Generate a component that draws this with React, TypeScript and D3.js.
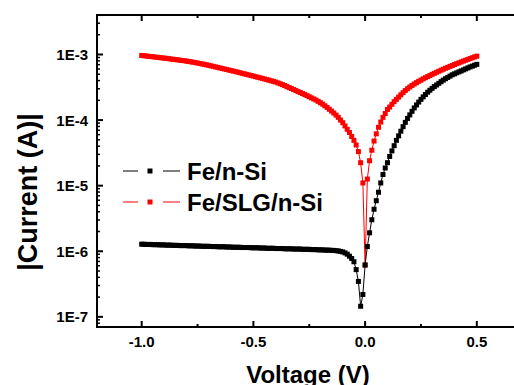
import { useEffect, useRef } from 'react';
import * as d3 from 'd3';

// Voltage sweep, -1.0 V to 0.5 V in 10 mV steps
const voltages = d3.range(-100, 51).map(i => i / 100);

// |I| (A), one value per sweep step
const currentFeNSi = [
    1.28e-6, 1.28e-6, 1.27e-6, 1.27e-6, 1.27e-6, 1.26e-6, 1.26e-6, 1.26e-6, 1.25e-6, 1.25e-6,
    1.25e-6, 1.24e-6, 1.24e-6, 1.24e-6, 1.23e-6, 1.23e-6, 1.23e-6, 1.22e-6, 1.22e-6, 1.22e-6,
    1.22e-6, 1.21e-6, 1.21e-6, 1.21e-6, 1.20e-6, 1.20e-6, 1.20e-6, 1.19e-6, 1.19e-6, 1.19e-6,
    1.19e-6, 1.18e-6, 1.18e-6, 1.18e-6, 1.17e-6, 1.17e-6, 1.17e-6, 1.17e-6, 1.16e-6, 1.16e-6,
    1.16e-6, 1.15e-6, 1.15e-6, 1.15e-6, 1.15e-6, 1.14e-6, 1.14e-6, 1.14e-6, 1.14e-6, 1.13e-6,
    1.13e-6, 1.13e-6, 1.13e-6, 1.12e-6, 1.12e-6, 1.12e-6, 1.11e-6, 1.11e-6, 1.11e-6, 1.11e-6,
    1.10e-6, 1.10e-6, 1.10e-6, 1.10e-6, 1.09e-6, 1.09e-6, 1.09e-6, 1.09e-6, 1.08e-6, 1.08e-6,
    1.08e-6, 1.08e-6, 1.07e-6, 1.07e-6, 1.07e-6, 1.07e-6, 1.06e-6, 1.06e-6, 1.06e-6, 1.05e-6,
    1.05e-6, 1.05e-6, 1.04e-6, 1.04e-6, 1.04e-6, 1.03e-6, 1.03e-6, 1.02e-6, 1.01e-6, 9.95e-7,
    9.77e-7, 9.44e-7, 9.02e-7, 8.41e-7, 7.76e-7, 6.92e-7, 5.25e-7, 3.47e-7, 1.45e-7, 2.19e-7,
    6.17e-7, 1.18e-6, 1.91e-6, 3.02e-6, 4.37e-6, 5.89e-6, 7.94e-6, 1.10e-5, 1.48e-5, 1.86e-5,
    2.24e-5, 2.79e-5, 3.39e-5, 4.07e-5, 4.90e-5, 5.75e-5, 6.76e-5, 7.94e-5, 9.23e-5, 1.06e-4,
    1.20e-4, 1.36e-4, 1.53e-4, 1.70e-4, 1.88e-4, 2.07e-4, 2.26e-4, 2.45e-4, 2.66e-4, 2.85e-4,
    3.05e-4, 3.24e-4, 3.43e-4, 3.63e-4, 3.85e-4, 4.07e-4, 4.27e-4, 4.47e-4, 4.68e-4, 4.90e-4,
    5.07e-4, 5.25e-4, 5.43e-4, 5.62e-4, 5.82e-4, 6.03e-4, 6.24e-4, 6.46e-4, 6.65e-4, 6.86e-4,
    7.08e-4
];

const currentFeSLGNSi = [
    9.66e-4, 9.57e-4, 9.48e-4, 9.40e-4, 9.31e-4, 9.23e-4, 9.14e-4, 9.06e-4, 8.97e-4, 8.89e-4,
    8.81e-4, 8.73e-4, 8.63e-4, 8.55e-4, 8.45e-4, 8.38e-4, 8.28e-4, 8.20e-4, 8.11e-4, 8.04e-4,
    7.94e-4, 7.83e-4, 7.73e-4, 7.62e-4, 7.52e-4, 7.41e-4, 7.29e-4, 7.18e-4, 7.06e-4, 6.95e-4,
    6.84e-4, 6.71e-4, 6.59e-4, 6.47e-4, 6.35e-4, 6.24e-4, 6.12e-4, 6.01e-4, 5.90e-4, 5.79e-4,
    5.69e-4, 5.58e-4, 5.48e-4, 5.38e-4, 5.27e-4, 5.16e-4, 5.07e-4, 4.97e-4, 4.88e-4, 4.78e-4,
    4.68e-4, 4.58e-4, 4.50e-4, 4.41e-4, 4.32e-4, 4.23e-4, 4.14e-4, 4.06e-4, 3.97e-4, 3.89e-4,
    3.80e-4, 3.69e-4, 3.58e-4, 3.47e-4, 3.36e-4, 3.24e-4, 3.13e-4, 3.03e-4, 2.92e-4, 2.82e-4,
    2.72e-4, 2.63e-4, 2.54e-4, 2.45e-4, 2.36e-4, 2.27e-4, 2.18e-4, 2.10e-4, 2.02e-4, 1.93e-4,
    1.84e-4, 1.75e-4, 1.65e-4, 1.56e-4, 1.46e-4, 1.37e-4, 1.28e-4, 1.19e-4, 1.10e-4, 1.00e-4,
    9.12e-5, 8.13e-5, 7.24e-5, 6.46e-5, 5.62e-5, 4.90e-5, 4.17e-5, 3.31e-5, 2.24e-5, 1.10e-5,
    6.17e-7, 1.26e-5, 2.40e-5, 3.47e-5, 4.79e-5, 6.17e-5, 7.76e-5, 9.33e-5, 1.10e-4, 1.26e-4,
    1.45e-4, 1.58e-4, 1.74e-4, 1.91e-4, 2.07e-4, 2.24e-4, 2.43e-4, 2.62e-4, 2.82e-4, 3.01e-4,
    3.19e-4, 3.37e-4, 3.55e-4, 3.72e-4, 3.90e-4, 4.07e-4, 4.25e-4, 4.43e-4, 4.60e-4, 4.79e-4,
    4.98e-4, 5.16e-4, 5.36e-4, 5.56e-4, 5.75e-4, 5.96e-4, 6.17e-4, 6.37e-4, 6.58e-4, 6.79e-4,
    7.01e-4, 7.24e-4, 7.46e-4, 7.69e-4, 7.93e-4, 8.17e-4, 8.41e-4, 8.67e-4, 8.93e-4, 9.18e-4,
    9.44e-4
];

const xMajorTicks = [-1.0, -0.5, 0.0, 0.5];
const xMinorTicks = [-0.75, -0.25, 0.25];
const yMajorTicks = [1e-7, 1e-6, 1e-5, 1e-4, 1e-3];

const seriesNames = ['Fe/n-Si', 'Fe/SLG/n-Si'];
const seriesColors = ['#000000', '#ff0000'];
const seriesValues = [currentFeNSi, currentFeSLGNSi];

const FONT = '"Liberation Sans", Arial, Helvetica, sans-serif';

export default function App() {
    const svgRef = useRef<SVGSVGElement>(null);

    useEffect(() => {
        if (!svgRef.current) return;
        const svg = d3.select(svgRef.current);
        svg.selectAll('*').remove();

        const left = 97, top = 15, right = 521.5, bottom = 327;

        const x = d3.scaleLinear().domain([-1.2, 0.7]).range([left, right]);
        const y = d3.scaleLog().domain([7e-8, 4e-3]).range([bottom, top]);

        // data, red drawn under black
        const order = [1, 0];
        const msize = 5;
        for (const i of order) {
            const pts = voltages.map((v, j) => ({ v, c: seriesValues[i][j] }));
            const line = d3.line<{ v: number; c: number }>()
                .x(d => x(d.v))
                .y(d => y(d.c));
            const g = svg.append('g');
            g.append('path')
                .attr('d', line(pts))
                .attr('fill', 'none')
                .attr('stroke', seriesColors[i])
                .attr('stroke-width', 1);
            g.selectAll('rect')
                .data(pts)
                .enter()
                .append('rect')
                .attr('x', d => x(d.v) - msize / 2)
                .attr('y', d => y(d.c) - msize / 2)
                .attr('width', msize)
                .attr('height', msize)
                .attr('fill', seriesColors[i]);
        }

        // frame
        svg.append('rect')
            .attr('x', left)
            .attr('y', top)
            .attr('width', right - left)
            .attr('height', bottom - top)
            .attr('fill', 'none')
            .attr('stroke', '#000')
            .attr('stroke-width', 2);

        const ticks = svg.append('g').attr('stroke', '#000').attr('stroke-width', 2);

        // x ticks, bottom and top, pointing in
        const xt = [
            ...xMajorTicks.map(v => ({ v, len: 6 })),
            ...xMinorTicks.map(v => ({ v, len: 3 }))
        ];
        for (const t of xt) {
            ticks.append('line')
                .attr('x1', x(t.v)).attr('x2', x(t.v))
                .attr('y1', bottom).attr('y2', bottom - t.len);
            ticks.append('line')
                .attr('x1', x(t.v)).attr('x2', x(t.v))
                .attr('y1', top).attr('y2', top + t.len);
        }

        // y ticks, log minors
        const majorSet = new Set(yMajorTicks.map(d => Math.round(Math.log10(d))));
        for (const t of y.ticks()) {
            const isMajor = Math.abs(Math.log10(t) - Math.round(Math.log10(t))) < 1e-6
                && majorSet.has(Math.round(Math.log10(t)));
            ticks.append('line')
                .attr('x1', left).attr('x2', left + (isMajor ? 6 : 3))
                .attr('y1', y(t)).attr('y2', y(t))
                .attr('stroke-width', isMajor ? 2 : 1.5);
        }

        // tick labels
        svg.append('g')
            .selectAll('text')
            .data(xMajorTicks)
            .enter()
            .append('text')
            .attr('x', d => x(d))
            .attr('y', 347)
            .attr('text-anchor', 'middle')
            .attr('font-family', FONT)
            .attr('font-weight', 'bold')
            .attr('font-size', 15)
            .text(d => d.toFixed(1));

        svg.append('g')
            .selectAll('text')
            .data(yMajorTicks)
            .enter()
            .append('text')
            .attr('x', 88)
            .attr('y', d => y(d) + 5.5)
            .attr('text-anchor', 'end')
            .attr('font-family', FONT)
            .attr('font-weight', 'bold')
            .attr('font-size', 15)
            .text(d => `1E${Math.round(Math.log10(d))}`);

        // axis titles
        svg.append('text')
            .attr('x', 308)
            .attr('y', 383)
            .attr('text-anchor', 'middle')
            .attr('font-family', FONT)
            .attr('font-weight', 'bold')
            .attr('font-size', 24)
            .text('Voltage (V)');

        svg.append('text')
            .attr('transform', 'translate(37,192) rotate(-90)')
            .attr('text-anchor', 'middle')
            .attr('font-family', FONT)
            .attr('font-weight', 'bold')
            .attr('font-size', 27)
            .text('|Current (A)|');

        // legend
        const legendY = [171, 202];
        seriesNames.forEach((name, i) => {
            const lg = svg.append('g');
            const ly = legendY[i];
            lg.append('line')
                .attr('x1', 123).attr('x2', 138).attr('y1', ly).attr('y2', ly)
                .attr('stroke', seriesColors[i]).attr('stroke-width', 1);
            lg.append('line')
                .attr('x1', 163).attr('x2', 180).attr('y1', ly).attr('y2', ly)
                .attr('stroke', seriesColors[i]).attr('stroke-width', 1);
            lg.append('rect')
                .attr('x', 150 - 2.5).attr('y', ly - 2.5)
                .attr('width', 5).attr('height', 5)
                .attr('fill', seriesColors[i]);
            lg.append('text')
                .attr('x', 187)
                .attr('y', ly + 8.5)
                .attr('font-family', FONT)
                .attr('font-weight', 'bold')
                .attr('font-size', 24)
                .text(name);
        });
    }, []);

    return (
        <div style={{ position: 'absolute', left: 0, top: 0 }}>
            <svg ref={svgRef} width={514} height={385} style={{ display: 'block', background: '#fff' }} />
        </div>
    );
}
